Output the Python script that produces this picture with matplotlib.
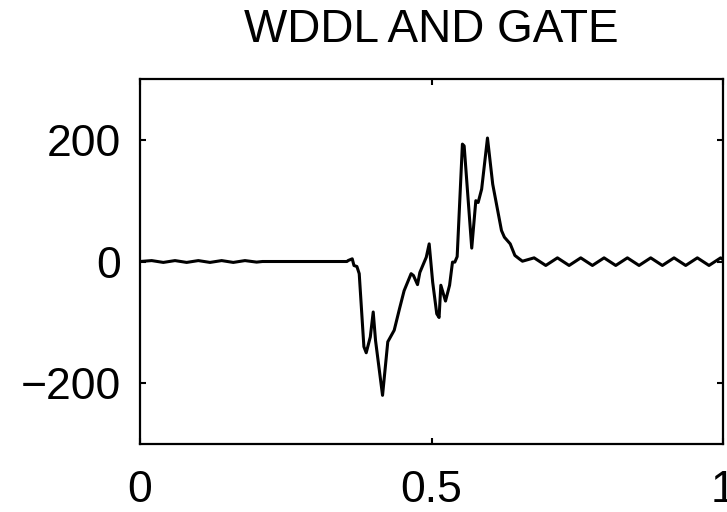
import matplotlib
matplotlib.use("Agg")
import matplotlib.pyplot as plt

plt.rcParams['font.family'] = ['Liberation Sans', 'DejaVu Sans']

title = "WDDL AND GATE"
x_ticks = [0, 0.5, 1]
x_tick_labels = ["0", "0.5", "1"]
y_ticks = [-200, 0, 200]
y_tick_labels = ["\u2212200", "0", "200"]

# waveform vertices
x_vals = [0.0, 0.02, 0.04, 0.06, 0.08, 0.10, 0.12, 0.14, 0.16, 0.18, 0.20, 0.21,
          0.355, 0.357, 0.364, 0.367, 0.372, 0.376, 0.384, 0.388, 0.395, 0.400,
          0.404, 0.416, 0.425, 0.436, 0.445, 0.453, 0.465, 0.469, 0.476, 0.480,
          0.491, 0.496, 0.502, 0.509, 0.513, 0.516, 0.524, 0.531, 0.536, 0.540,
          0.544, 0.553, 0.556, 0.569, 0.576, 0.580, 0.586, 0.596, 0.605, 0.620,
          0.625, 0.635, 0.643, 0.651, 0.656,
          0.676, 0.696, 0.716, 0.736, 0.756, 0.776, 0.796, 0.816, 0.836, 0.856,
          0.876, 0.896, 0.916, 0.936, 0.956, 0.976, 0.996, 1.0]
y_vals = [0, 1.5, -1.5, 1.5, -1.5, 1.5, -1.5, 1.5, -1.5, 1.5, -1, 0,
          0, 1.6, 4.4, -6.6, -8.2, -20, -140, -150, -124, -83,
          -130, -220, -132, -113, -78, -48, -20, -23, -38, -18,
          7, 29, -34, -86, -92, -39, -65, -39, -1, -1,
          8, 193, 190, 22, 100, 97, 119, 203, 127, 51,
          40, 29, 10, 4, 0.5,
          6, -6.5, 6, -6.5, 6, -6.5, 6, -6.5, 6, -6.5,
          6, -6.5, 6, -6.5, 6, -6.5, 6, 3]

fig = plt.figure(figsize=(7.27, 5.12), dpi=100)
ax = fig.add_axes([0.1926, 0.1328, 0.8019, 0.7129])
ax.plot(x_vals, y_vals, color='black', linewidth=2.2)
ax.set_xlim(0, 1)
ax.set_ylim(-300, 300)
ax.set_xticks(x_ticks)
ax.set_xticklabels(x_tick_labels)
ax.set_yticks(y_ticks)
ax.set_yticklabels(y_tick_labels)
for s in ax.spines.values():
    s.set_linewidth(1.6)
ax.tick_params(direction='in', length=4, width=1.5, top=True, right=True,
               labelsize=32)
ax.tick_params(axis='x', pad=19)
ax.tick_params(axis='y', pad=14)
ax.set_title(title, fontsize=33, pad=27)
fig.savefig("out.png", dpi=100)
